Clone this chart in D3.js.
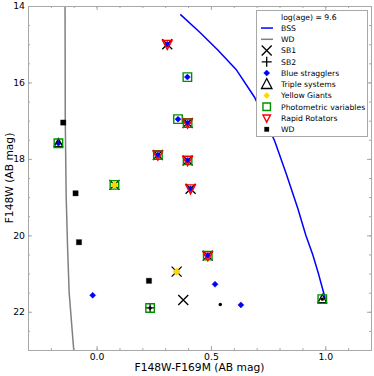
<!DOCTYPE html>
<html><head><meta charset="utf-8">
<script src="https://cdn.jsdelivr.net/npm/d3@7"></script>
<style>body{margin:0;background:#fff}svg{display:block;font-family:"DejaVu Sans",sans-serif}</style>
</head><body><svg id="c" width="374" height="376"></svg>
<script>
// ---- data ----
const bssLine = [[0.366,14.22],[0.45,14.68],[0.53,15.15],[0.61,15.66],[0.69,16.38],[0.74,17.0],[0.78,17.55],[0.83,18.4],[0.88,19.3],[0.915,20.0],[0.945,20.5],[0.97,21.0],[1.0,21.66]];
const wdLine = [[-0.138,14],[-0.137,17],[-0.133,19],[-0.127,20.3],[-0.12,21.5],[-0.10,23]];
const sb1 = [[0.309,15.0],[0.398,17.06],[0.268,17.90],[0.398,18.04],[0.078,18.68],[0.411,18.78],[0.486,20.53],[0.350,20.95],[0.379,21.69]];
const sb2 = [[0.234,21.90]];
const blueStragglers = [[0.309,15.0],[0.397,15.86],[0.356,16.96],[0.398,17.06],[-0.167,17.59],[0.268,17.90],[0.398,18.04],[0.411,18.78],[0.486,20.53],[0.518,21.28],[-0.017,21.57],[0.631,21.82]];
const triples = [[-0.167,17.59],[0.987,21.67]];
const yellowGiants = [[0.078,18.68],[0.350,20.95]];
const photometric = [[0.397,15.86],[0.356,16.96],[0.398,17.06],[-0.167,17.59],[0.268,17.90],[0.398,18.04],[0.078,18.68],[0.486,20.53],[0.234,21.90],[0.987,21.67]];
const rapidRotators = [[0.309,15.0],[0.398,17.06],[0.268,17.90],[0.398,18.04],[0.411,18.78],[0.486,20.53]];
const whiteDwarfs = [[-0.146,17.05],[-0.092,18.90],[-0.077,20.18],[0.229,21.19]];
const otherDots = [[0.541,21.81],[0.234,21.90],[0.987,21.67]];
const xTickLabels = [0.0,0.5,1.0];
const yTickLabels = [14,16,18,20,22];
const legendTitle = "log(age) = 9.6";
const legendLabels = ["BSS","WD","SB1","SB2","Blue stragglers","Triple systems","Yellow Giants","Photometric variables","Rapid Rotators","WD"];

// ---- layout ----
const L=28,R=371,T=6,B=350;
const x=d3.scaleLinear().domain([-0.3,1.2]).range([L,R]);
const y=d3.scaleLinear().domain([14,23]).range([T,B]);
const svg=d3.select("#c");
const spine="#a8a8a8";

// markers
const mk={
  x:(s)=>`M${-s/2},${-s/2}L${s/2},${s/2}M${-s/2},${s/2}L${s/2},${-s/2}`,
  plus:(s)=>`M${-s/2},0L${s/2},0M0,${-s/2}L0,${s/2}`,
  diamond:(s)=>`M0,${-s/2}L${s/2},0L0,${s/2}L${-s/2},0Z`,
  triUp:(s)=>`M0,${-s*0.55}L${s/2},${s*0.4}L${-s/2},${s*0.4}Z`,
  triDown:(s)=>`M0,${s*0.55}L${s/2},${-s*0.4}L${-s/2},${-s*0.4}Z`,
  square:(s)=>`M${-s/2},${-s/2}h${s}v${s}h${-s}Z`
};
const styles={
  sb1:{p:mk.x,s:10,fill:"none",stroke:"#000",sw:1.3},
  sb2:{p:mk.plus,s:10,fill:"none",stroke:"#000",sw:1.3},
  bs:{p:mk.diamond,s:6,fill:"#0000ff",stroke:"#0000ff",sw:0.5},
  tri:{p:mk.triUp,s:8.5,fill:"none",stroke:"#000",sw:1.3},
  yg:{p:mk.diamond,s:7.5,fill:"#ffd700",stroke:"#ffd700",sw:0.5},
  ph:{p:mk.square,s:8.5,fill:"none",stroke:"#009000",sw:1.4},
  rr:{p:mk.triDown,s:9.5,fill:"none",stroke:"#ff0000",sw:1.4},
  wd:{p:mk.square,s:5.3,fill:"#000",stroke:"#000",sw:0.3}
};

const plot=svg.append("g");
plot.append("clipPath").attr("id","clip").append("rect").attr("x",L).attr("y",T).attr("width",R-L).attr("height",B-T);
const line=d3.line().x(d=>x(d[0])).y(d=>y(d[1]));
plot.append("path").attr("clip-path","url(#clip)").datum(wdLine).attr("d",line).attr("fill","none").attr("stroke","#808080").attr("stroke-width",1.5);
plot.append("path").attr("clip-path","url(#clip)").datum(bssLine).attr("d",line).attr("fill","none").attr("stroke","#0000ff").attr("stroke-width",1.5);

function drawSeries(data,st){
  plot.append("g").selectAll("path").data(data).join("path")
    .attr("transform",d=>`translate(${x(d[0])},${y(d[1])})`)
    .attr("d",st.p(st.s)).attr("fill",st.fill).attr("stroke",st.stroke).attr("stroke-width",st.sw);
}
drawSeries(sb1,styles.sb1);
drawSeries(sb2,styles.sb2);
drawSeries(blueStragglers,styles.bs);
drawSeries(triples,styles.tri);
drawSeries(yellowGiants,styles.yg);
drawSeries(photometric,styles.ph);
drawSeries(rapidRotators,styles.rr);
drawSeries(whiteDwarfs,styles.wd);
plot.append("g").selectAll("circle").data(otherDots).join("circle")
  .attr("cx",d=>x(d[0])).attr("cy",d=>y(d[1])).attr("r",1.7).attr("fill","#000");

// ---- axes ----
const xMinor=d3.range(-0.3,1.2001,0.1).map(v=>+v.toFixed(2));
const yMinor=d3.range(14,23.001,0.5);
function ax(gen,scale,pos,ticks,size,labels,fmt){
  const a=gen(scale).tickValues(ticks).tickSizeInner(size).tickSizeOuter(0).tickPadding(4)
    .tickFormat(labels?fmt:"");
  const g=svg.append("g").attr("transform",pos).call(a);
  g.selectAll(".domain").attr("stroke",spine);
  g.selectAll(".tick line").attr("stroke",spine);
  g.selectAll("text").attr("font-family","DejaVu Sans").attr("font-size",9.3).attr("fill","#000");
  return g;
}
const fx=d3.format(".1f"), fy=d3.format("d");
// bottom
ax(d3.axisBottom,x,`translate(0,${B})`,xMinor,-2,false);
const gb=ax(d3.axisBottom,x,`translate(0,${B})`,xTickLabels,-4,true,fx);
gb.selectAll("text").attr("dy","0.71em").attr("y",3.5);
// top
ax(d3.axisTop,x,`translate(0,${T})`,xMinor,-2,false);
ax(d3.axisTop,x,`translate(0,${T})`,xTickLabels,-4,false);
// left
ax(d3.axisLeft,y,`translate(${L},0)`,yMinor,-2,false);
const gl=ax(d3.axisLeft,y,`translate(${L},0)`,yTickLabels,-4,true,fy);
gl.selectAll("text").attr("x",-3);
// right
ax(d3.axisRight,y,`translate(${R},0)`,yMinor,-2,false);
ax(d3.axisRight,y,`translate(${R},0)`,yTickLabels,-4,false);

svg.append("text").attr("x",(L+R)/2).attr("y",371).attr("text-anchor","middle")
  .attr("font-size",10.7).text("F148W-F169M (AB mag)");
svg.append("text").attr("transform",`translate(12.5,${(T+B)/2}) rotate(-90)`).attr("text-anchor","middle")
  .attr("font-size",10.7).text("F148W (AB mag)");

// ---- legend ----
const lg=svg.append("g");
lg.append("rect").attr("x",256.5).attr("y",10.5).attr("width",111).attr("height",126)
  .attr("fill","#fff").attr("stroke",spine).attr("stroke-width",1);
const rowY=i=>16.8+i*11.25;
const hx=266.7, tx=281;
lg.append("text").attr("x",tx).attr("y",rowY(0)+2.8).attr("font-size",7.7).text(legendTitle);
const handles=[
  {line:"#0000ff"},{line:"#808080"},
  {st:styles.sb1,s:10},{st:styles.sb2,s:10},{st:styles.bs,s:6},{st:styles.tri,s:10.5},
  {st:styles.yg,s:6},{st:styles.ph,s:7.5},{st:styles.rr,s:7.5},{st:styles.wd,s:4.5}
];
legendLabels.forEach((lab,i)=>{
  const cy=rowY(i+1), h=handles[i];
  if(h.line){
    lg.append("line").attr("x1",261).attr("x2",273).attr("y1",cy).attr("y2",cy).attr("stroke",h.line).attr("stroke-width",1.5);
  } else {
    lg.append("path").attr("transform",`translate(${hx},${cy})`).attr("d",h.st.p(h.s))
      .attr("fill",h.st.fill==="none"?"#fff":h.st.fill).attr("fill-opacity",h.st.fill==="none"?0:1)
      .attr("stroke",h.st.stroke).attr("stroke-width",h.st.sw);
  }
  lg.append("text").attr("x",tx).attr("y",cy+2.8).attr("font-size",7.7).text(lab);
});
</script></body></html>
